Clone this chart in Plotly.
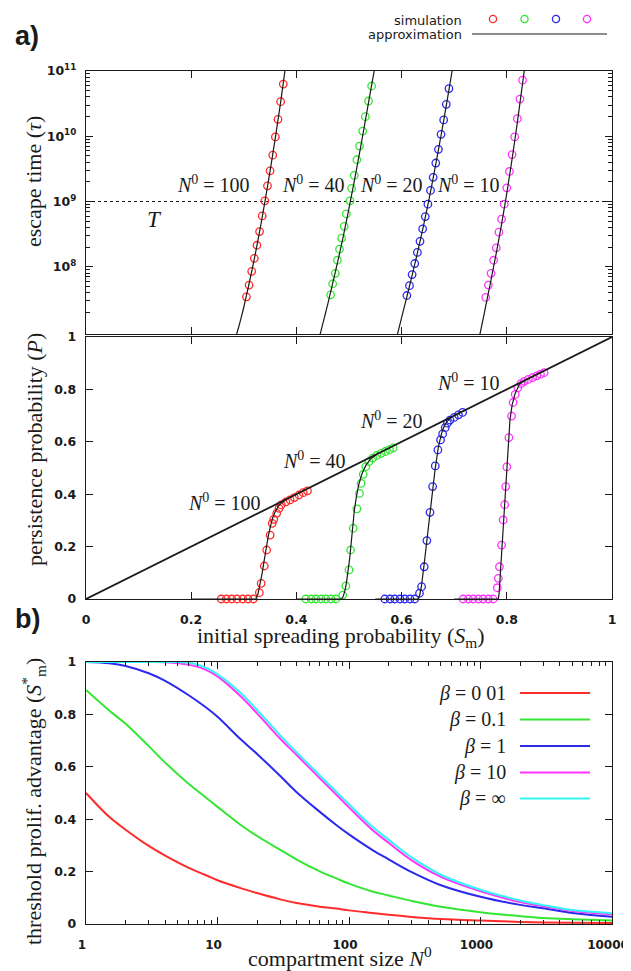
import plotly.graph_objects as go

# page body has an 8 px margin: the figure is drawn 8 px right/down of the window corner
OFF = 8
W, H = 631 - OFF, 971 - OFF

# ---------------- colours ----------------
C_RED, C_GREEN, C_BLUE, C_MAG, C_CYAN = "#ff2a2a", "#33e633", "#2a2aee", "#ff33ff", "#33f5f5"
INK = "#1a1a1a"

# ---------------- panel a (top): escape time tau vs S_m ----------------
N0_labels = ["100", "40", "20", "10"]

sim_tau_S_100 = [0.305, 0.310, 0.315, 0.320, 0.325, 0.330, 0.335, 0.340, 0.345, 0.350, 0.355, 0.360, 0.365, 0.370, 0.375]
sim_tau_exp_100 = [7.54, 7.72, 7.93, 8.13, 8.33, 8.54, 8.78, 9.01, 9.24, 9.47, 9.71, 9.99, 10.26, 10.53, 10.80]
sim_tau_S_40 = [0.465, 0.469, 0.474, 0.478, 0.482, 0.486, 0.491, 0.495, 0.502, 0.505, 0.510, 0.515, 0.520, 0.526, 0.531, 0.537, 0.543]
sim_tau_exp_40 = [7.57, 7.74, 7.90, 8.10, 8.27, 8.44, 8.62, 8.81, 9.01, 9.20, 9.40, 9.64, 9.85, 10.08, 10.30, 10.54, 10.77]
sim_tau_S_20 = [0.610, 0.615, 0.620, 0.625, 0.630, 0.635, 0.640, 0.645, 0.650, 0.655, 0.660, 0.665, 0.670, 0.675, 0.680, 0.685, 0.690]
sim_tau_exp_20 = [7.56, 7.71, 7.88, 8.05, 8.22, 8.39, 8.58, 8.77, 8.96, 9.17, 9.37, 9.59, 9.80, 10.03, 10.25, 10.49, 10.73]
sim_tau_S_10 = [0.760, 0.765, 0.770, 0.775, 0.780, 0.785, 0.790, 0.795, 0.800, 0.805, 0.810, 0.815, 0.820, 0.825, 0.830]
sim_tau_exp_10 = [7.53, 7.72, 7.90, 8.10, 8.29, 8.53, 8.73, 8.96, 9.21, 9.46, 9.72, 9.99, 10.27, 10.57, 10.86]

apx_tau_S_100 = [0.285, 0.290, 0.295, 0.300, 0.310, 0.320, 0.330, 0.340, 0.350, 0.360, 0.370, 0.379]
apx_tau_exp_100 = [6.93, 7.07, 7.22, 7.38, 7.74, 8.12, 8.54, 8.99, 9.47, 9.98, 10.52, 11.05]
apx_tau_S_40 = [0.444, 0.450, 0.455, 0.460, 0.470, 0.480, 0.490, 0.500, 0.510, 0.520, 0.530, 0.540, 0.549]
apx_tau_exp_40 = [6.93, 7.12, 7.28, 7.44, 7.78, 8.13, 8.50, 8.90, 9.31, 9.74, 10.19, 10.65, 11.05]
apx_tau_S_20 = [0.591, 0.600, 0.610, 0.620, 0.630, 0.640, 0.650, 0.660, 0.670, 0.680, 0.690, 0.697]
apx_tau_exp_20 = [6.93, 7.22, 7.54, 7.87, 8.21, 8.57, 8.95, 9.36, 9.79, 10.24, 10.71, 11.05]
apx_tau_S_10 = [0.748, 0.755, 0.760, 0.770, 0.780, 0.790, 0.800, 0.810, 0.820, 0.834]
apx_tau_exp_10 = [6.93, 7.20, 7.40, 7.80, 8.21, 8.65, 9.13, 9.65, 10.21, 11.05]

T_value = 1e9

# ---------------- panel a (middle): persistence probability P vs S_m ----------------
sim_P_S_100 = [0.257, 0.267, 0.277, 0.287, 0.298, 0.308, 0.318, 0.3295, 0.333, 0.339, 0.3435, 0.350, 0.354, 0.357,
               0.3625, 0.367, 0.371, 0.380, 0.388, 0.396, 0.405, 0.413, 0.421]
sim_P_100 = [0, 0, 0, 0, 0, 0, 0, 0.024, 0.060, 0.126, 0.187, 0.244, 0.289, 0.304,
             0.327, 0.346, 0.359, 0.371, 0.378, 0.387, 0.397, 0.406, 0.413]
sim_P_S_40 = [0.418, 0.428, 0.437, 0.447, 0.456, 0.466, 0.475, 0.488, 0.494, 0.500, 0.503, 0.508, 0.515, 0.520,
              0.523, 0.527, 0.532, 0.538, 0.545, 0.553, 0.561, 0.569, 0.577, 0.584]
sim_P_40 = [0, 0, 0, 0, 0, 0, 0, 0.015, 0.050, 0.111, 0.187, 0.270, 0.344, 0.403,
            0.441, 0.476, 0.505, 0.524, 0.538, 0.548, 0.556, 0.563, 0.570, 0.577]
sim_P_S_20 = [0.568, 0.578, 0.587, 0.597, 0.606, 0.616, 0.625, 0.634, 0.638, 0.643, 0.648, 0.654, 0.659, 0.664,
              0.669, 0.674, 0.678, 0.683, 0.687, 0.692, 0.700, 0.708, 0.716]
sim_P_20 = [0, 0, 0, 0, 0, 0, 0, 0.022, 0.047, 0.123, 0.223, 0.331, 0.429, 0.508,
            0.569, 0.607, 0.630, 0.654, 0.671, 0.683, 0.693, 0.703, 0.712]
sim_P_S_10 = [0.717, 0.727, 0.736, 0.746, 0.755, 0.765, 0.774, 0.782, 0.784, 0.786, 0.790, 0.793, 0.796, 0.798,
              0.800, 0.804, 0.809, 0.812, 0.816, 0.821, 0.827, 0.833, 0.841, 0.849, 0.857, 0.864, 0.871]
sim_P_10 = [0, 0, 0, 0, 0, 0, 0, 0.043, 0.079, 0.123, 0.206, 0.302, 0.360, 0.429,
            0.504, 0.616, 0.698, 0.750, 0.781, 0.806, 0.822, 0.831, 0.838, 0.845, 0.852, 0.858, 0.864]

apx_P_S_100 = [0.20, 0.323, 0.327, 0.331, 0.335, 0.339, 0.343, 0.347, 0.351, 0.355, 0.360, 0.366, 0.372, 0.380]
apx_P_100 = [0, 0, 0.02, 0.055, 0.10, 0.15, 0.20, 0.245, 0.28, 0.31, 0.335, 0.355, 0.367, 0.379]
apx_P_S_40 = [0.40, 0.486, 0.489, 0.492, 0.495, 0.498, 0.501, 0.504, 0.507, 0.510, 0.514, 0.519, 0.525, 0.532, 0.541, 0.552]
apx_P_40 = [0, 0, 0.01, 0.03, 0.06, 0.10, 0.15, 0.21, 0.275, 0.335, 0.39, 0.44, 0.48, 0.51, 0.535, 0.551]
apx_P_S_20 = [0.55, 0.632, 0.635, 0.638, 0.6445, 0.651, 0.657, 0.6635, 0.670, 0.676, 0.681, 0.686, 0.695]
apx_P_20 = [0, 0, 0.02, 0.053, 0.161, 0.276, 0.39, 0.492, 0.581, 0.632, 0.660, 0.677, 0.694]
apx_P_S_10 = [0.70, 0.784, 0.7855, 0.787, 0.790, 0.7935, 0.797, 0.800, 0.803, 0.806, 0.810, 0.816, 0.825, 0.836]
apx_P_10 = [0, 0, 0.025, 0.073, 0.174, 0.302, 0.416, 0.518, 0.607, 0.683, 0.74, 0.785, 0.823, 0.835]

diag_S = [0, 1]
diag_P = [0, 1]

# ---------------- panel b: threshold S*_m vs compartment size N0 ----------------
beta_labels = ["0 01", "0.1", "1", "10", "∞"]
N0_grid = [1, 1.5, 2, 3, 4, 6, 8, 10, 15, 20, 30, 40, 60, 80, 100, 150, 200, 300, 500, 1000, 2000, 3000, 5000, 10000]
Sstar_b001 = [0.500, 0.409, 0.360, 0.298, 0.261, 0.215, 0.188, 0.167, 0.137, 0.118, 0.094, 0.080, 0.066, 0.059,
              0.052, 0.042, 0.035, 0.027, 0.019, 0.013, 0.008, 0.006, 0.005, 0.004]
Sstar_b01 = [0.893, 0.815, 0.764, 0.679, 0.616, 0.536, 0.486, 0.447, 0.378, 0.336, 0.283, 0.246, 0.201, 0.174,
             0.154, 0.124, 0.109, 0.088, 0.066, 0.045, 0.030, 0.023, 0.018, 0.013]
Sstar_b1 = [1.000, 0.995, 0.985, 0.957, 0.928, 0.874, 0.830, 0.791, 0.705, 0.649, 0.565, 0.503, 0.428, 0.378,
            0.342, 0.283, 0.247, 0.198, 0.148, 0.104, 0.073, 0.060, 0.042, 0.028]
Sstar_b10 = [1.000, 1.000, 1.000, 1.000, 0.999, 0.990, 0.972, 0.945, 0.869, 0.804, 0.707, 0.645, 0.556, 0.494,
             0.445, 0.360, 0.310, 0.243, 0.180, 0.125, 0.084, 0.068, 0.050, 0.037]
Sstar_binf = [1.000, 1.000, 1.000, 1.000, 1.000, 0.998, 0.980, 0.953, 0.882, 0.817, 0.720, 0.655, 0.567, 0.505,
              0.457, 0.372, 0.322, 0.254, 0.188, 0.131, 0.090, 0.072, 0.053, 0.041]

N0_tick_vals = [1, 10, 100, 1000, 10000]
N0_tick_text = ["1", "10", "100", "1000", "10000"]


# ---------------- helpers: window pixel -> paper fraction ----------------
def PX(x):
    return (x - OFF) / W


def PY(y):
    return 1 - (y - OFF) / H


XDOM = [PX(86), PX(612)]
DOM_TOP = [PY(334), PY(71)]
DOM_MID = [PY(599), PY(337)]
DOM_BOT = [PY(924), PY(662)]

fig = go.Figure()

sim_cols = [C_RED, C_GREEN, C_BLUE, C_MAG]

# top panel
tau_sim = [(sim_tau_S_100, sim_tau_exp_100), (sim_tau_S_40, sim_tau_exp_40),
           (sim_tau_S_20, sim_tau_exp_20), (sim_tau_S_10, sim_tau_exp_10)]
tau_apx = [(apx_tau_S_100, apx_tau_exp_100), (apx_tau_S_40, apx_tau_exp_40),
           (apx_tau_S_20, apx_tau_exp_20), (apx_tau_S_10, apx_tau_exp_10)]

fig.add_trace(go.Scatter(x=[0, 1], y=[T_value, T_value], mode="lines", xaxis="x", yaxis="y",
                         line=dict(color=INK, width=1.2, dash="dot"), showlegend=False, hoverinfo="skip"))
for (s, e), col in zip(tau_sim, sim_cols):
    fig.add_trace(go.Scatter(x=s, y=[10 ** v for v in e], mode="markers", xaxis="x", yaxis="y",
                             marker=dict(symbol="circle-open", size=7.5, color=col, line=dict(width=1.3, color=col)),
                             showlegend=False))
for s, e in tau_apx:
    fig.add_trace(go.Scatter(x=s, y=[10 ** v for v in e], mode="lines", xaxis="x", yaxis="y",
                             line=dict(color=INK, width=1.2, shape="spline", smoothing=0.6), showlegend=False))

# middle panel
P_sim = [(sim_P_S_100, sim_P_100), (sim_P_S_40, sim_P_40), (sim_P_S_20, sim_P_20), (sim_P_S_10, sim_P_10)]
P_apx = [(apx_P_S_100, apx_P_100), (apx_P_S_40, apx_P_40), (apx_P_S_20, apx_P_20), (apx_P_S_10, apx_P_10)]
for (s, p), col in zip(P_sim, sim_cols):
    fig.add_trace(go.Scatter(x=s, y=p, mode="markers", xaxis="x2", yaxis="y2", cliponaxis=False,
                             marker=dict(symbol="circle-open", size=7.5, color=col, line=dict(width=1.3, color=col)),
                             showlegend=False))
fig.add_trace(go.Scatter(x=diag_S, y=diag_P, mode="lines", xaxis="x2", yaxis="y2",
                         line=dict(color=INK, width=1.8), showlegend=False))
for s, p in P_apx:
    fig.add_trace(go.Scatter(x=s, y=p, mode="lines", xaxis="x2", yaxis="y2",
                             line=dict(color=INK, width=1.2), showlegend=False))

# bottom panel
b_curves = [Sstar_b001, Sstar_b01, Sstar_b1, Sstar_b10, Sstar_binf]
b_cols = [C_RED, C_GREEN, C_BLUE, C_MAG, C_CYAN]
for ys, col in zip(b_curves, b_cols):
    fig.add_trace(go.Scatter(x=N0_grid, y=ys, mode="lines", xaxis="x3", yaxis="y3",
                             line=dict(color=col, width=2, shape="spline", smoothing=1.0), showlegend=False))

# ---------------- axes ----------------
TICKFONT = dict(family="DejaVu Sans", size=12.5, color=INK, weight="bold")
common = dict(showline=True, linecolor=INK, linewidth=1.4, mirror="allticks", ticks="inside",
              tickcolor=INK, tickwidth=1.1, ticklen=7, showgrid=False, zeroline=False, tickfont=TICKFONT,
              automargin=False, ticklabeloverflow="allow")
common_x3 = dict(common)
common_x3["tickfont"] = dict(family="DejaVu Sans", size=12, color=INK, weight="bold")

minor_log_y = [k * 10 ** e for e in range(6, 11) for k in range(2, 10)]
minor_log_x = [k * 10 ** e for e in range(0, 4) for k in range(2, 10)]

fig.update_layout(
    xaxis=dict(domain=XDOM, range=[0, 1], anchor="y", tickvals=[0.2, 0.4, 0.6, 0.8],
               showticklabels=False, **common),
    yaxis=dict(domain=DOM_TOP, type="log", range=[6.97, 11], anchor="x",
               tickvals=[1e8, 1e9, 1e10, 1e11],
               ticktext=["10<sup>8</sup>", "10<sup>9</sup>", "10<sup>10</sup>", "10<sup>11</sup>"],
               ticklabelstandoff=6,
               minor=dict(tickvals=minor_log_y, ticks="inside", ticklen=4, tickcolor=INK, tickwidth=1, showgrid=False),
               **common),
    xaxis2=dict(domain=XDOM, range=[0, 1], anchor="y2", tickvals=[0, 0.2, 0.4, 0.6, 0.8, 1],
                ticktext=["0", "0.2", "0.4", "0.6", "0.8", "1"], ticklabelstandoff=9, **common),
    yaxis2=dict(domain=DOM_MID, range=[0, 1], anchor="x2", tickvals=[0, 0.2, 0.4, 0.6, 0.8, 1],
                ticktext=["0", "0.2", "0.4", "0.6", "0.8", "1"], ticklabelstandoff=6, **common),
    xaxis3=dict(domain=XDOM, type="log", range=[0, 4], anchor="y3", tickvals=N0_tick_vals,
                ticktext=N0_tick_text, ticklabelstandoff=9, ticklabelshift=-4,
                minor=dict(tickvals=minor_log_x, ticks="inside", ticklen=4, tickcolor=INK, tickwidth=1, showgrid=False),
                **common_x3),
    yaxis3=dict(domain=DOM_BOT, range=[0, 1], anchor="x3", tickvals=[0, 0.2, 0.4, 0.6, 0.8, 1],
                ticktext=["0", "0.2", "0.4", "0.6", "0.8", "1"], ticklabelstandoff=6, **common),
)

# ---------------- text ----------------
SERIF = "Liberation Serif"
ann = []


def add_text(text, x, y, size=20, xref="paper", yref="paper", xanchor="center", yanchor="middle",
             angle=0, family=SERIF, color=INK):
    ann.append(dict(text=text, x=x, y=y, xref=xref, yref=yref, xanchor=xanchor, yanchor=yanchor,
                    showarrow=False, textangle=angle, font=dict(family=family, size=size, color=color)))


# panel labels
add_text("<b>a)</b>", PX(27), PY(36), size=27, family="Liberation Sans")
add_text("<b>b)</b>", PX(27), PY(619), size=27, family="Liberation Sans")

# axis titles
add_text("escape time (<i>τ</i>)", PX(33), PY(182), size=22, angle=-90)
add_text("persistence probability (<i>P</i>)", PX(34), PY(450), size=22, angle=-90)
add_text("threshold prolif. advantage (<i>S</i><sup>*</sup><sub>m</sub>)", PX(33), PY(802), size=22, angle=-90)
add_text("initial spreading probability (<i>S</i><sub>m</sub>)", PX(341), PY(637), size=22)
add_text("compartment size <i>N</i><sup>0</sup>", PX(340), PY(957), size=22)

# top panel labels
top_lab_S = [0.243, 0.432, 0.580, 0.728]
for s, lab in zip(top_lab_S, N0_labels):
    add_text(f"<i>N</i><sup>0</sup> = {lab}", s, 9.27, size=20, xref="x", yref="y")
add_text("<i>T</i>", 0.131, 8.73, size=23, xref="x", yref="y")

# middle panel labels
mid_lab_S = [0.264, 0.434, 0.581, 0.728]
mid_lab_P = [0.371, 0.530, 0.683, 0.829]
for s, p, lab in zip(mid_lab_S, mid_lab_P, N0_labels):
    add_text(f"<i>N</i><sup>0</sup> = {lab}", s, p, size=20, xref="x2", yref="y2")

# top legend
add_text("simulation", PX(464), PY(20), size=13, xanchor="right", family="DejaVu Sans")
add_text("approximation", PX(464), PY(34), size=13, xanchor="right", family="DejaVu Sans")

shapes = []
for cx, col in zip([493, 524.5, 556, 587], sim_cols):
    shapes.append(dict(type="circle", xref="paper", yref="paper", x0=PX(cx - 3.6), x1=PX(cx + 3.6),
                       y0=PY(19 + 3.6), y1=PY(19 - 3.6), line=dict(color=col, width=1.3)))
shapes.append(dict(type="line", xref="paper", yref="paper", x0=PX(472), x1=PX(607), y0=PY(34), y1=PY(34),
                   line=dict(color=INK, width=1.2)))

# bottom legend
leg_rows = [693, 719.5, 746, 772.5, 798.5]
for yy, lab, col in zip(leg_rows, beta_labels, b_cols):
    add_text(f"<i>β</i> = {lab}", PX(508), PY(yy), size=20, xanchor="right")
    shapes.append(dict(type="line", xref="paper", yref="paper", x0=PX(520), x1=PX(590), y0=PY(yy), y1=PY(yy),
                       line=dict(color=col, width=2.2)))

fig.update_layout(
    width=W, height=H, margin=dict(l=0, r=0, t=0, b=0),
    paper_bgcolor="white", plot_bgcolor="white",
    annotations=ann, shapes=shapes, showlegend=False,
)

fig.write_html("out.html")
